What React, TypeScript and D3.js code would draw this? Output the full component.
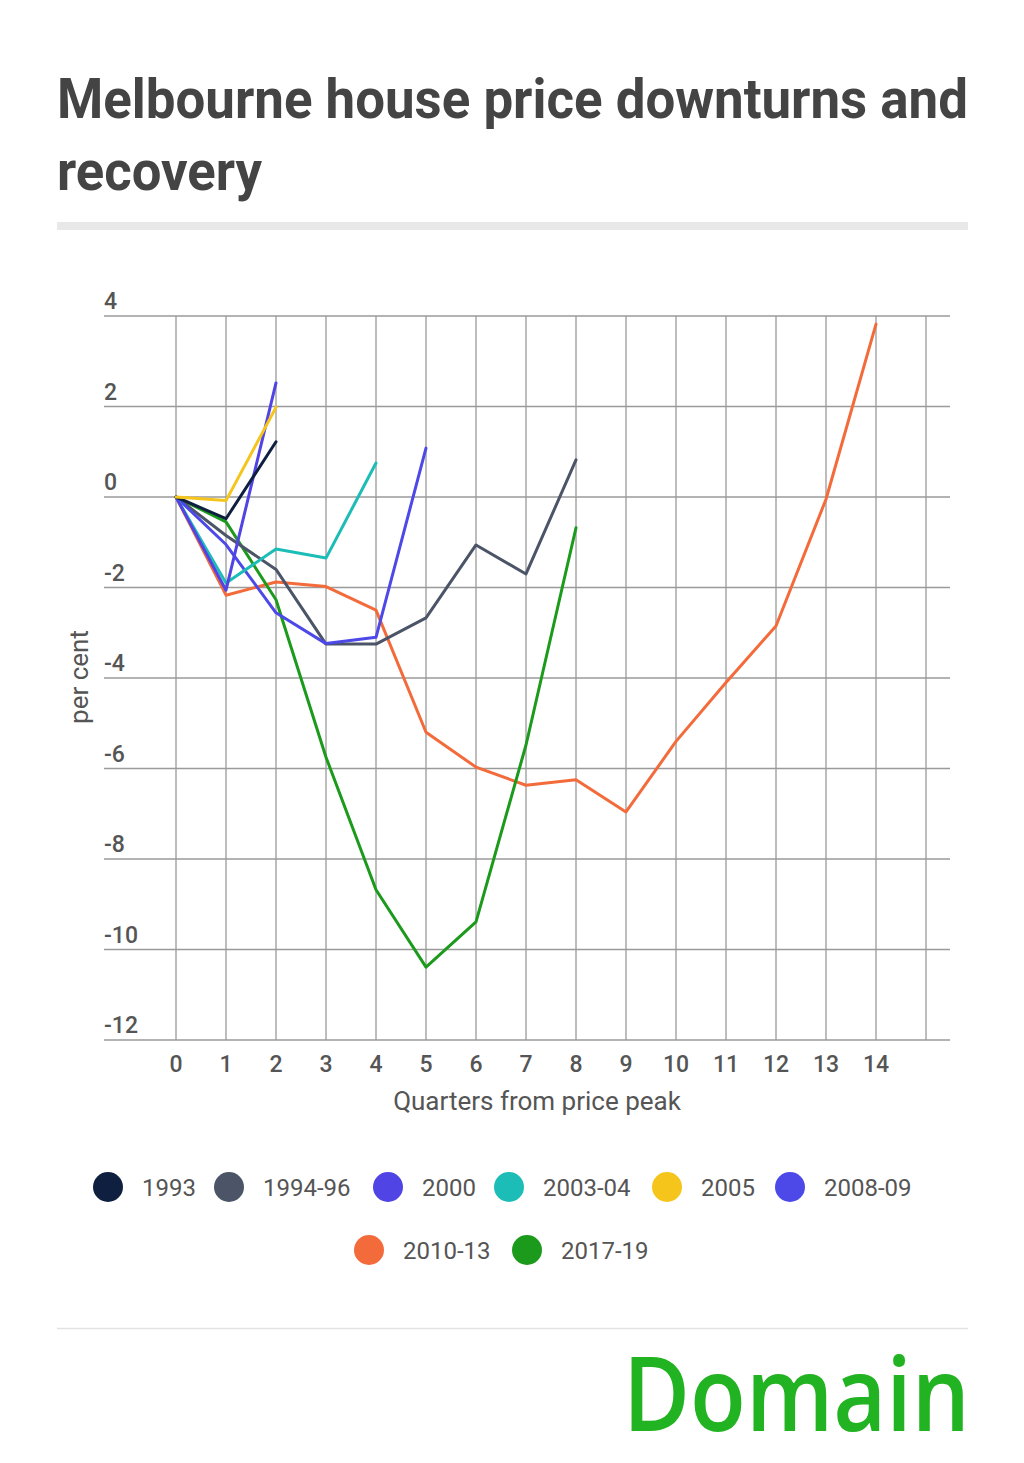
import * as d3 from "d3";

// quarters from peak, 0..15
const quarters = d3.range(0, 16);
const xTickLabels = d3.range(0, 15);
const yTicks = [4, 2, 0, -2, -4, -6, -8, -10, -12];

const s1993 = [0, -0.48, 1.22];
const s1994 = [0, -0.85, -1.6, -3.25, -3.25, -2.67, -1.06, -1.7, 0.82];
const s2000 = [0, -2.06, 2.52];
const s2003 = [0, -1.9, -1.15, -1.35, 0.75];
const s2005 = [0, -0.08, 1.98];
const s2008 = [0, -1.05, -2.56, -3.24, -3.1, 1.08];
const s2010 = [0, -2.17, -1.88, -1.98, -2.5, -5.2, -5.97, -6.37, -6.25, -6.96, -5.4, -4.1, -2.85, -0.05, 3.82];
const s2017 = [0, -0.55, -2.27, -5.75, -8.68, -10.39, -9.39, -5.48, -0.68];

const seriesNames = ["1993", "1994-96", "2000", "2003-04", "2005", "2008-09", "2010-13", "2017-19"];
const seriesValues = [s1993, s1994, s2000, s2003, s2005, s2008, s2010, s2017];
const seriesColors = ["#0e1f3f", "#4b5567", "#5044e4", "#1cbdb6", "#f6c51b", "#4d48e8", "#f36b3b", "#1b9a1b"];

// draw order (back to front)
const drawOrder = [6, 7, 1, 5, 3, 2, 0, 4];

const legendRows = [
  [0, 1, 2, 3, 4, 5],
  [6, 7],
];

const font = "Roboto, 'Noto Sans', sans-serif";

export default function App() {
  const width = 1024;
  const height = 1463;

  const plot = { left: 104, right: 950, top: 316, bottom: 1040 };

  const x = d3.scaleLinear().domain([0, 15]).range([176, 926]);
  const y = d3.scaleLinear().domain([-12, 4]).range([plot.bottom, plot.top]);

  const line = d3
    .line<number>()
    .x((_, i) => x(i))
    .y((d) => y(d));

  const legendX: number[][] = [
    [108, 229, 388, 509, 667, 790],
    [369, 527],
  ];
  const legendY = [1187, 1250];

  return (
    <svg width={width} height={height} style={{ display: "block", margin: "-8px" }}>
      <rect width={width} height={height} fill="#ffffff" />
      <text x={57} y={118} fontFamily={font} fontWeight={700} fontSize={55} fill="#444444" textLength={911} lengthAdjust="spacingAndGlyphs">
        Melbourne house price downturns and
      </text>
      <text x={57} y={190} fontFamily={font} fontWeight={700} fontSize={55} fill="#444444" textLength={205} lengthAdjust="spacingAndGlyphs">
        recovery
      </text>
      <rect x={57} y={222} width={911} height={8} fill="#e8e8e8" />

      {/* horizontal grid */}
      {yTicks.map((t) => (
        <g key={"y" + t}>
          <line x1={plot.left} x2={plot.right} y1={y(t)} y2={y(t)} stroke="#9a9a9a" strokeWidth={1.3} />
          <text x={plot.left} y={y(t) - 7} fontFamily={font} fontWeight={500} fontSize={23} fill="#555555">
            {t}
          </text>
        </g>
      ))}
      {/* vertical grid */}
      {quarters.map((q) => (
        <line key={"x" + q} x1={x(q)} x2={x(q)} y1={plot.top} y2={plot.bottom} stroke="#9a9a9a" strokeWidth={1.3} />
      ))}
      {xTickLabels.map((q) => (
        <text key={"xl" + q} x={x(q)} y={1072} textAnchor="middle" fontFamily={font} fontWeight={500} fontSize={23} fill="#555555">
          {q}
        </text>
      ))}

      <text x={537} y={1110} textAnchor="middle" fontFamily={font} fontSize={26} fill="#555555">
        Quarters from price peak
      </text>
      <text transform={`translate(88,677) rotate(-90)`} textAnchor="middle" fontFamily={font} fontSize={26} fill="#555555">
        per cent
      </text>

      {drawOrder.map((i) => (
        <path
          key={seriesNames[i]}
          d={line(seriesValues[i]) || ""}
          fill="none"
          stroke={seriesColors[i]}
          strokeWidth={3}
          strokeLinejoin="round"
          strokeLinecap="round"
        />
      ))}

      {legendRows.map((row, r) =>
        row.map((i, k) => (
          <g key={"lg" + i}>
            <circle cx={legendX[r][k]} cy={legendY[r]} r={15} fill={seriesColors[i]} />
            <text x={legendX[r][k] + 34} y={legendY[r] + 9} fontFamily={font} fontSize={24} fill="#555555">
              {seriesNames[i]}
            </text>
          </g>
        ))
      )}

      <line x1={57} x2={968} y1={1328.5} y2={1328.5} stroke="#e2e2e2" strokeWidth={1.5} />
      <text x={623} y={1431} fontFamily="'Open Sans', Roboto, sans-serif" fontWeight={600} fontSize={104} fill="#22b322" textLength={347} lengthAdjust="spacingAndGlyphs">
        Domain
      </text>
    </svg>
  );
}
